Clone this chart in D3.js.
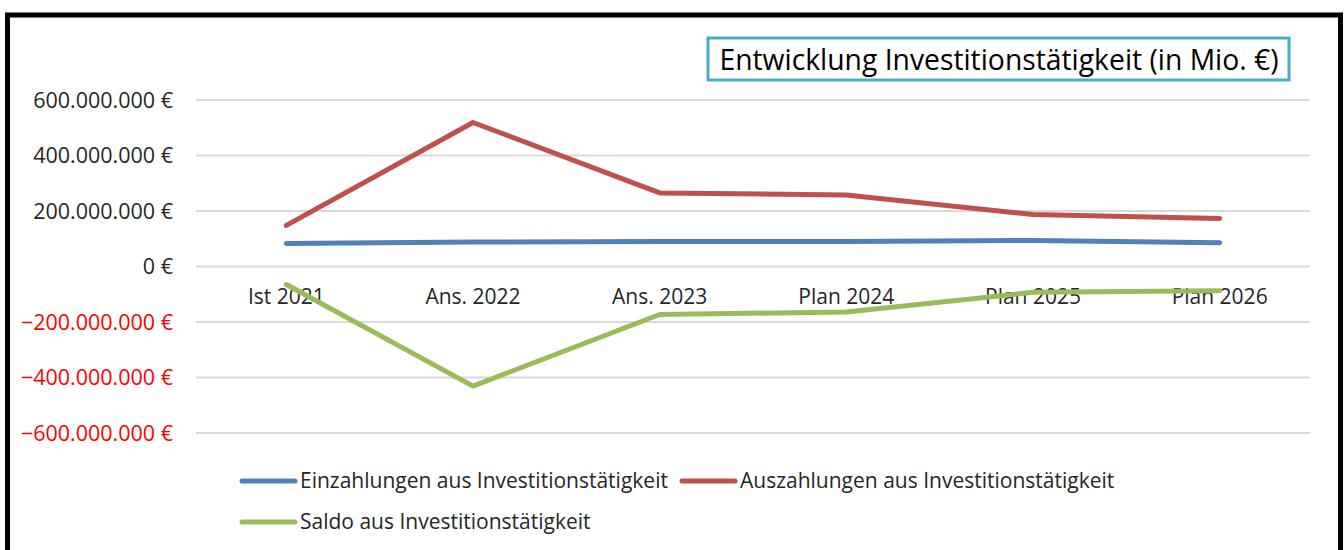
<!DOCTYPE html>
<html>
<head>
<meta charset="utf-8">
<script src="https://cdn.jsdelivr.net/npm/d3@7"></script>
<style>
  body { margin: 0; background: #fff; }
  svg { display: block; font-family: "Open Sans", "Noto Sans", sans-serif; }
</style>
</head>
<body>
<div id="chart"></div>
<script>
var categories = ["Ist 2021", "Ans. 2022", "Ans. 2023", "Plan 2024", "Plan 2025", "Plan 2026"];
var einzahlungen = [83e6, 88e6, 90e6, 90e6, 94e6, 86e6];
var auszahlungen = [148e6, 519e6, 265e6, 258e6, 187e6, 173e6];
var saldo = [-65e6, -431e6, -173e6, -164e6, -93e6, -87e6];
var yTicks = [600e6, 400e6, 200e6, 0, -200e6, -400e6, -600e6];
var seriesNames = ["Einzahlungen aus Investitionstätigkeit", "Auszahlungen aus Investitionstätigkeit", "Saldo aus Investitionstätigkeit"];
var seriesColors = ["#4F81BD", "#C0504D", "#9BBB59"];

var width = 1344, height = 550;
var svg = d3.select("#chart").append("svg")
  .attr("width", width)
  .attr("height", height);

// outer frame
svg.append("rect")
  .attr("x", 7.5).attr("y", 15)
  .attr("width", 1333).attr("height", 560)
  .attr("fill", "#fff")
  .attr("stroke", "#000")
  .attr("stroke-width", 5);

var x = d3.scalePoint().domain(categories).range([193, 1313]).padding(0.5);
var y = d3.scaleLinear().domain([-600e6, 600e6]).range([433, 100]);

var de = d3.formatLocale({ decimal: ",", thousands: ".", grouping: [3], currency: ["", " €"] });
var fmt = de.format(",.0f");

// gridlines
svg.append("g").selectAll("line")
  .data(yTicks)
  .enter()
  .append("line")
  .attr("x1", 196).attr("x2", 1310)
  .attr("y1", d => y(d)).attr("y2", d => y(d))
  .attr("stroke", "#D9D9D9")
  .attr("stroke-width", 2);

// y labels
svg.append("g").selectAll("text")
  .data(yTicks)
  .enter()
  .append("text")
  .attr("x", 173)
  .attr("y", d => y(d))
  .attr("dy", "0.35em")
  .attr("text-anchor", "end")
  .attr("font-size", 21.5)
  .attr("fill", d => d < 0 ? "#FF0000" : "#262626")
  .text(d => fmt(d) + " €");

// category labels just under the zero line
svg.append("g").selectAll("text")
  .data(categories)
  .enter()
  .append("text")
  .attr("x", d => x(d))
  .attr("y", y(0) + 30)
  .attr("dy", "0.35em")
  .attr("text-anchor", "middle")
  .attr("font-size", 21)
  .attr("fill", "#262626")
  .text(d => d);

var line = d3.line()
  .x((d, i) => x(categories[i]))
  .y(d => y(d));

var series = [einzahlungen, auszahlungen, saldo];
svg.append("g").selectAll("path")
  .data(series)
  .enter()
  .append("path")
  .attr("d", d => line(d))
  .attr("fill", "none")
  .attr("stroke", (d, i) => seriesColors[i])
  .attr("stroke-width", 5)
  .attr("stroke-linecap", "round")
  .attr("stroke-linejoin", "round");

// legend
var legendPos = [[240, 481], [680, 481], [240, 522]];
var lg = svg.append("g").selectAll("g")
  .data(seriesNames)
  .enter()
  .append("g")
  .attr("transform", (d, i) => "translate(" + legendPos[i][0] + "," + legendPos[i][1] + ")");
lg.append("line")
  .attr("x1", 2).attr("x2", 55)
  .attr("stroke", (d, i) => seriesColors[i])
  .attr("stroke-width", 5)
  .attr("stroke-linecap", "round");
lg.append("text")
  .attr("x", 60)
  .attr("dy", "0.35em")
  .attr("font-size", 21)
  .attr("fill", "#262626")
  .text(d => d);

// title box
svg.append("rect")
  .attr("x", 708).attr("y", 38)
  .attr("width", 581).attr("height", 42)
  .attr("fill", "#fff")
  .attr("stroke", "#4BACC6")
  .attr("stroke-width", 3);
svg.append("text")
  .attr("x", 999).attr("y", 60)
  .attr("dy", "0.35em")
  .attr("text-anchor", "middle")
  .attr("font-size", 28.3)
  .attr("fill", "#000")
  .text("Entwicklung Investitionstätigkeit (in Mio. €)");
</script>
</body>
</html>
